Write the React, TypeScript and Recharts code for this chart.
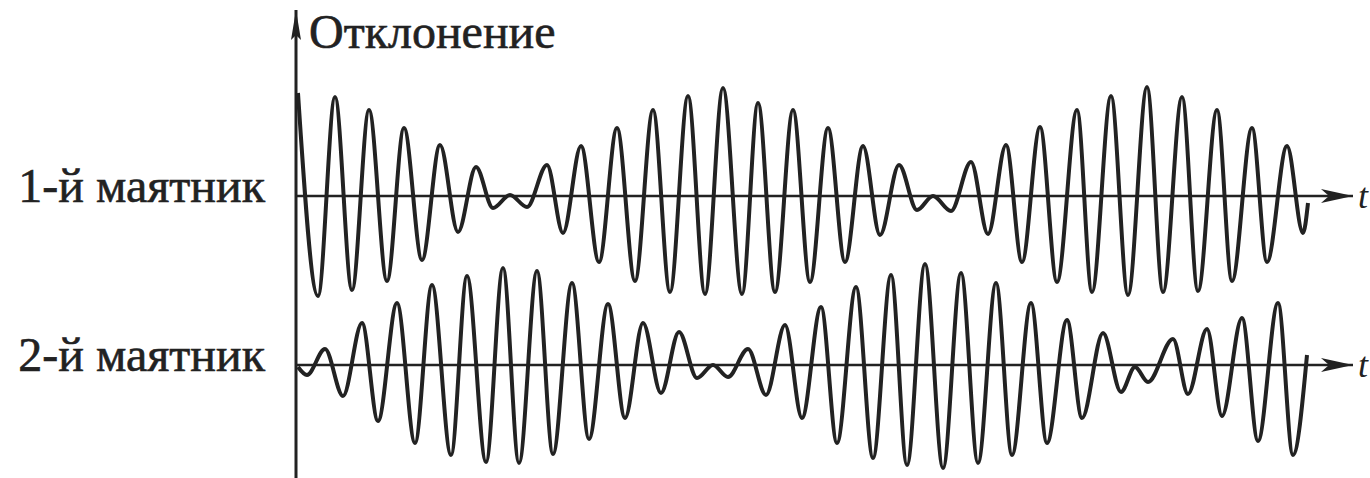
import React from "react";
import { ComposedChart, Line, XAxis, YAxis, ReferenceLine, ReferenceDot } from "recharts";

// Time of each turning point (arbitrary units) and the deflection there.
const timeFirst = [
  2, 22, 39, 56, 73, 91, 108, 126, 144, 162, 180, 197, 214, 231, 251, 267, 285, 303, 321, 339,
  357, 374, 392, 409, 427, 446, 462, 479, 497, 514, 532, 549, 567, 584, 603, 621, 637, 655, 675, 692,
  710, 726, 744, 761, 781, 796, 815, 832, 851, 867, 886, 902, 921, 936, 956, 971, 991, 1007, 1012,
];
const deflectionFirst = [
  103, -100, 99, -94, 86, -85, 68, -64, 51, -36, 29, -12, 1, -11, 31, -37, 50, -66, 68, -85,
  86, -96, 100, -98, 108, -98, 93, -96, 86, -86, 68, -66, 50, -39, 31, -14, 0, -15, 34, -38,
  51, -66, 69, -86, 86, -96, 100, -99, 109, -96, 99, -95, 86, -85, 68, -66, 50, -37, -7,
];

const timeSecond = [
  2, 11, 29, 47, 66, 82, 101, 119, 136, 155, 171, 190, 207, 223, 241, 257, 276, 293, 312, 329,
  347, 365, 383, 401, 417, 432, 452, 470, 489, 506, 525, 541, 560, 577, 595, 611, 629, 647, 665, 682,
  700, 716, 735, 751, 771, 786, 807, 825, 839, 852, 877, 892, 911, 926, 946, 962, 982, 997, 1011,
];
const deflectionSecond = [
  -2, -10, 16, -31, 42, -56, 62, -78, 80, -90, 89, -97, 97, -98, 94, -89, 82, -74, 61, -53,
  42, -28, 33, -13, 0, -12, 16, -30, 40, -53, 58, -78, 78, -93, 90, -100, 101, -103, 92, -98,
  82, -90, 62, -78, 45, -53, 32, -27, -2, -17, 26, -29, 36, -51, 47, -76, 62, -90, 10,
];

const axisTitle = "Отклонение";
const labelFirst = "1-й маятник";
const labelSecond = "2-й маятник";
const timeLabel = "t";

const firstData = timeFirst.map((t, i) => ({ t, v: deflectionFirst[i] }));
const secondData = timeSecond.map((t, i) => ({ t, v: deflectionSecond[i] }));

const INK = "#222";
const serifStyle: React.CSSProperties = { fontFamily: '"Liberation Serif", "Times New Roman", "DejaVu Serif", serif' };
const T_MAX = 1057;

const RightArrow = (props: any) => {
  const { cx, cy } = props;
  return (
    <g>
      <path
        d={`M ${cx} ${cy} L ${cx - 32} ${cy - 7} L ${cx - 24} ${cy} L ${cx - 32} ${cy + 7} Z`}
        fill={INK}
      />
      <text x={cx + 5} y={cy + 12} style={{ ...serifStyle, fontStyle: "italic" }} fontSize={36} fill={INK}>
        {timeLabel}
      </text>
    </g>
  );
};

const UpArrow = (props: any) => {
  const { cx, cy } = props;
  return (
    <g>
      <path
        d={`M ${cx} ${cy} L ${cx - 5} ${cy + 30} L ${cx} ${cy + 25} L ${cx + 5} ${cy + 30} Z`}
        fill={INK}
      />
      <text
        x={cx + 13}
        y={cy + 38}
        style={serifStyle}
        fontSize={48}
        fill={INK}
        stroke={INK}
        strokeWidth={0.6}
      >
        {axisTitle}
      </text>
    </g>
  );
};

const rowLabel = (text: string) => (props: any) => {
  const { cx, cy } = props;
  return (
    <text
      x={cx - 31}
      y={cy + 6}
      textAnchor="end"
      style={serifStyle}
      fontSize={48}
      fill={INK}
      stroke={INK}
      strokeWidth={0.6}
    >
      {text}
    </text>
  );
};

export default function App() {
  return (
    <div style={{ position: "absolute", left: 0, top: 0, width: 1370, height: 478, background: "#fff" }}>
      <ComposedChart width={1370} height={478} margin={{ top: 10, right: 17, bottom: 0, left: 296 }}>
        <XAxis type="number" dataKey="t" domain={[0, T_MAX]} hide allowDataOverflow />
        <YAxis yAxisId="p1" type="number" domain={[-282, 186]} hide allowDataOverflow />
        <YAxis yAxisId="p2" type="number" domain={[-113, 355]} hide allowDataOverflow />

        <ReferenceLine yAxisId="p1" x={0} stroke={INK} strokeWidth={3} />
        <ReferenceLine yAxisId="p1" y={0} stroke={INK} strokeWidth={2.5} />
        <ReferenceLine yAxisId="p2" y={0} stroke={INK} strokeWidth={2.5} />

        <Line
          yAxisId="p1"
          data={firstData}
          dataKey="v"
          type="monotone"
          stroke={INK}
          strokeWidth={4}
          dot={false}
          isAnimationActive={false}
        />
        <Line
          yAxisId="p2"
          data={secondData}
          dataKey="v"
          type="monotone"
          stroke={INK}
          strokeWidth={4}
          dot={false}
          isAnimationActive={false}
        />

        <ReferenceDot yAxisId="p1" x={0} y={186} r={0} shape={UpArrow} />
        <ReferenceDot yAxisId="p1" x={T_MAX} y={0} r={0} shape={RightArrow} />
        <ReferenceDot yAxisId="p2" x={T_MAX} y={0} r={0} shape={RightArrow} />
        <ReferenceDot yAxisId="p1" x={0} y={0} r={0} shape={rowLabel(labelFirst)} />
        <ReferenceDot yAxisId="p2" x={0} y={0} r={0} shape={rowLabel(labelSecond)} />
      </ComposedChart>
    </div>
  );
}
